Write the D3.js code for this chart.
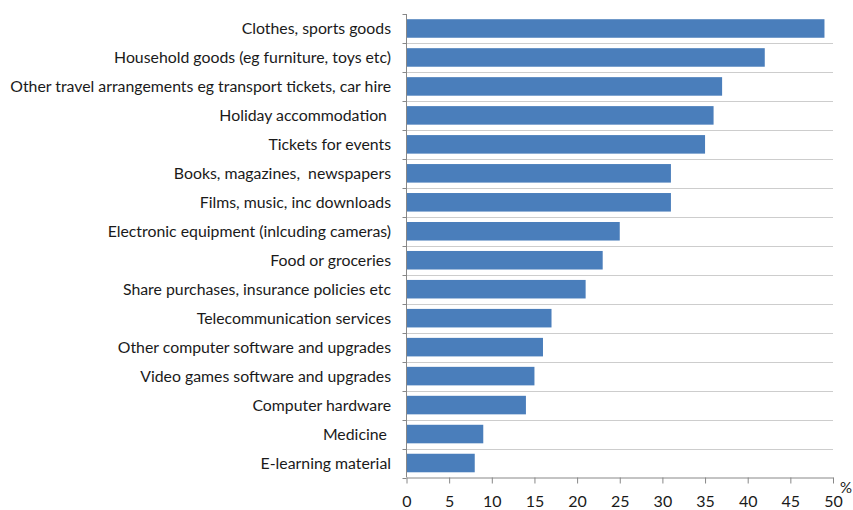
<!DOCTYPE html>
<html><head><meta charset="utf-8">
<script src="https://cdn.jsdelivr.net/npm/d3@7"></script>
<style>
body{margin:0;background:#fff;}
svg{display:block;}
text{font-family:Lato,"Open Sans",sans-serif;fill:#1a1a1a;}
</style></head>
<body><svg id="c" width="853" height="510"></svg>
<script>
const categories = [
  "Clothes, sports goods",
  "Household goods (eg furniture, toys etc)",
  "Other travel arrangements eg transport tickets, car hire",
  "Holiday accommodation ",
  "Tickets for events",
  "Books, magazines,  newspapers",
  "Films, music, inc downloads",
  "Electronic equipment (inlcuding cameras)",
  "Food or groceries",
  "Share purchases, insurance policies etc",
  "Telecommunication services",
  "Other computer software and upgrades",
  "Video games software and upgrades",
  "Computer hardware",
  "Medicine ",
  "E-learning material"
];
const values = [49, 42, 37, 36, 35, 31, 31, 25, 23, 21, 17, 16, 15, 14, 9, 8];
const xTicks = [0, 5, 10, 15, 20, 25, 30, 35, 40, 45, 50];
const unitLabel = "%";

(function(){
const svg = d3.select("#c");
const mL = 406.5, mR = 833, mT = 14, mB = 477.5;
const x = d3.scaleLinear().domain([0, 50]).range([mL, mR]);
const y = d3.scaleBand().domain(categories).range([mT, mB]).paddingInner(0.36).paddingOuter(0.18);

const bounds = d3.range(1, categories.length).map(i => Math.round(mT + i * (mB - mT) / categories.length) + 0.5);
svg.append("g").selectAll("line").data(bounds).join("line")
  .attr("x1", mL).attr("x2", mR).attr("y1", d => d).attr("y2", d => d)
  .attr("stroke", "#9a9a9a").attr("stroke-width", 1).attr("stroke-dasharray", "1,1");

svg.append("g").selectAll("rect").data(values).join("rect")
  .attr("x", x(0)).attr("y", (d, i) => y(categories[i]))
  .attr("width", d => x(d) - x(0)).attr("height", y.bandwidth())
  .attr("fill", "#4a7ebb");

svg.append("line").attr("x1", mL).attr("x2", mL).attr("y1", mT).attr("y2", mB)
  .attr("stroke", "#888").attr("stroke-width", 1);
const yt = d3.range(0, categories.length + 1).map(i => Math.round(mT + i * (mB - mT) / categories.length) + 0.5);
svg.append("g").selectAll("line").data(yt).join("line")
  .attr("x1", mL - 4).attr("x2", mL).attr("y1", d => d).attr("y2", d => d)
  .attr("stroke", "#888");
const labels = svg.append("g").selectAll("text").data(categories).join("text")
  .attr("x", 391).attr("y", d => y(d) + y.bandwidth() / 2)
  .attr("dy", "0.36em").attr("text-anchor", "end")
  .style("font-size", "15px").style("white-space", "pre")
  .text(d => d);
const longest = labels.filter((d, i) => i === 2).node();
const w = longest.getComputedTextLength();
const fs = 15 * 381 / w;
labels.style("font-size", fs + "px");

const xAxis = d3.axisBottom(x).tickValues(xTicks).tickSize(6).tickSizeOuter(0);
const gx = svg.append("g").attr("transform", `translate(0,${mB})`).call(xAxis);
gx.select(".domain").attr("stroke", "#888");
gx.selectAll(".tick line").attr("stroke", "#888");
gx.selectAll(".tick text").attr("y", 29).attr("dy", null)
  .style("font-size", "16px").style("font-family", "Lato,sans-serif").attr("fill", "#1a1a1a");
svg.append("text").attr("x", 846).attr("y", 493).attr("text-anchor", "middle")
  .style("font-size", "15px").text(unitLabel);
})();
</script></body></html>
